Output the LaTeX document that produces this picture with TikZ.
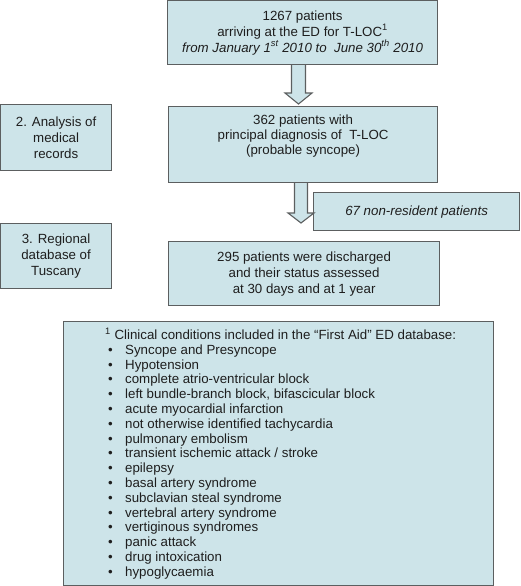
\documentclass[tikz,border=0pt]{standalone}
\usepackage{fontspec}
\setmainfont{Liberation Sans}
\usetikzlibrary{calc}
\definecolor{boxfill}{HTML}{CDE4E9}
\definecolor{boxline}{HTML}{5C5F60}
\definecolor{txt}{HTML}{1E1E1E}
\tikzset{
  box/.style={draw=boxline, fill=boxfill, line width=1.2pt, inner sep=0pt,
    align=center, text=txt, font=\fontsize{13.3}{16}\selectfont},
  barrow/.style={draw=boxline, fill=boxfill, line width=1.1pt, line join=miter},
  listtext/.style={align=left, inner sep=0pt, text=txt, font=\fontsize{13.3}{14.8}\selectfont},
}
\newcommand{\bul}[1]{\makebox[20pt][l]{\hspace{3pt}\textbullet}#1}
\begin{document}
\begin{tikzpicture}[x=1pt,y=-1pt]
\useasboundingbox (0,0) rectangle (520,586);
% boxes (pixel coordinates, y downward)
\node[box, minimum width=270, minimum height=64, anchor=north west] (b1) at (167,0)
  {1267 patients\\arriving at the ED for T-LOC\textsuperscript{1}\\
   \textit{from January 1\textsuperscript{st} 2010 to\ \ June 30\textsuperscript{th} 2010}};
\node[box, minimum width=111, minimum height=66, anchor=north west] (an) at (0,104)
  {2. Analysis of\\medical\\records};
\node[box, minimum width=269, minimum height=76, anchor=north west,
  font=\fontsize{13.3}{15}\selectfont] (b362) at (168,106)
  {362 patients with\\principal diagnosis of\ \ T-LOC\\(probable syncope)\\[4pt]};
\node[box, minimum width=206, minimum height=38, anchor=north west] (b67) at (313,192)
  {\textit{67 non-resident patients}};
\node[box, minimum width=111, minimum height=65, anchor=north west] (reg) at (0,223)
  {3. Regional\\database of\\Tuscany};
\node[box, minimum width=271, minimum height=64, anchor=north west] (b295) at (168,241)
  {295 patients were discharged\\and their status assessed\\at 30 days and at 1 year};
\node[box, minimum width=430, minimum height=264, anchor=north west] (foot) at (63,321) {};
\node[listtext, anchor=north west] (footlist) at ($(foot.north west)+(42,6.6)$)
  {\strut\textsuperscript{1} Clinical conditions included in the “First Aid” ED database:\\
   \bul{Syncope and Presyncope}\\
   \bul{Hypotension}\\
   \bul{complete atrio-ventricular block}\\
   \bul{left bundle-branch block, bifascicular block}\\
   \bul{acute myocardial infarction}\\
   \bul{not otherwise identified tachycardia}\\
   \bul{pulmonary embolism}\\
   \bul{transient ischemic attack / stroke}\\
   \bul{epilepsy}\\
   \bul{basal artery syndrome}\\
   \bul{subclavian steal syndrome}\\
   \bul{vertebral artery syndrome}\\
   \bul{vertiginous syndromes}\\
   \bul{panic attack}\\
   \bul{drug intoxication}\\
   \bul{hypoglycaemia}};
% block arrows
\fill[boxfill] let \p1=(b1.south), \p2=(b362.north) in
  (291.5pt,\y1) -- (291.5pt,{\y2+13pt}) -- (285pt,{\y2+13pt}) -- (298.5pt,{\y2+2pt})
  -- (312pt,{\y2+13pt}) -- (305.5pt,{\y2+13pt}) -- (305.5pt,\y1) -- cycle;
\draw[barrow, fill=none] let \p1=(b1.south), \p2=(b362.north) in
  (291.5pt,\y1) -- (291.5pt,{\y2+13pt}) -- (285pt,{\y2+13pt}) -- (298.5pt,{\y2+2pt})
  -- (312pt,{\y2+13pt}) -- (305.5pt,{\y2+13pt}) -- (305.5pt,\y1);
\fill[boxfill] let \p1=(b362.south), \p2=(b295.north) in
  (294.5pt,\y1) -- (294.5pt,{\y2+28pt}) -- (288pt,{\y2+28pt}) -- (301pt,{\y2+18pt})
  -- (314pt,{\y2+28pt}) -- (307.5pt,{\y2+28pt}) -- (307.5pt,\y1) -- cycle;
\draw[barrow, fill=none] let \p1=(b362.south), \p2=(b295.north) in
  (294.5pt,\y1) -- (294.5pt,{\y2+28pt}) -- (288pt,{\y2+28pt}) -- (301pt,{\y2+18pt})
  -- (314pt,{\y2+28pt}) -- (307.5pt,{\y2+28pt}) -- (307.5pt,\y1);
\end{tikzpicture}
\end{document}
